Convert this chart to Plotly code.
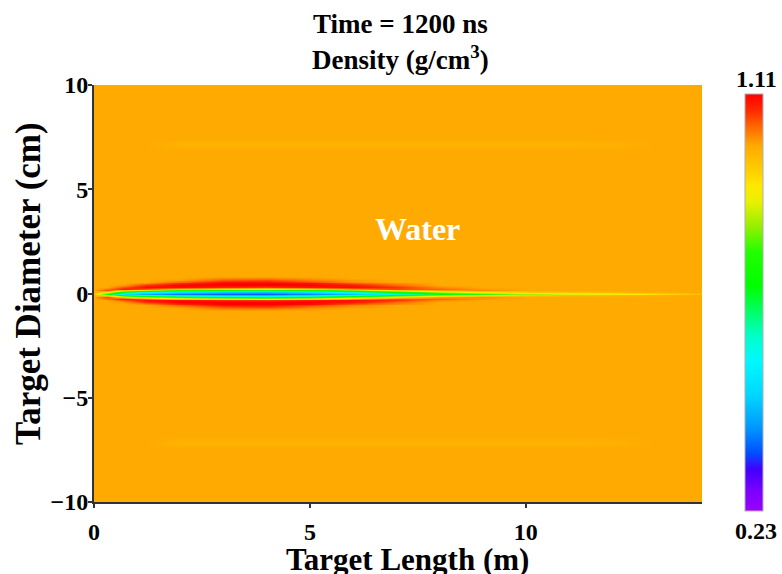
import plotly.graph_objects as go

# ---------------- data ----------------
x_m = [0.0, 0.3, 0.7, 1.2, 2.0, 3.0, 4.0, 5.0, 6.0, 7.0, 8.0, 9.0, 10.0, 11.0, 12.0, 13.0, 14.0, 14.1]

# radial levels (cm) for the upper half; the field is mirrored about y = 0
y_half_cm = [0.0, 0.08, 0.16, 0.24, 0.32, 0.40, 0.48, 0.56, 0.64, 0.74, 0.86, 1.0, 6.9, 7.15, 7.4, 10.0]

water_density = 1.0

# density (g/cm^3) across the jet at each station, from the axis outwards
jet_profiles = [
    [0.97, 1.00],
    [0.75, 0.92, 1.06, 1.03, 1.00],
    [0.52, 0.68, 0.96, 1.09, 1.05, 1.01],
    [0.42, 0.56, 0.86, 1.05, 1.10, 1.07, 1.02],
    [0.38, 0.50, 0.76, 0.98, 1.10, 1.11, 1.08, 1.04, 1.01],
    [0.36, 0.46, 0.70, 0.94, 1.08, 1.11, 1.11, 1.09, 1.05, 1.02],
    [0.36, 0.45, 0.68, 0.92, 1.07, 1.11, 1.11, 1.09, 1.06, 1.02],
    [0.39, 0.50, 0.72, 0.95, 1.09, 1.11, 1.10, 1.06, 1.03, 1.01],
    [0.45, 0.58, 0.82, 1.02, 1.10, 1.09, 1.05, 1.02, 1.01],
    [0.58, 0.72, 0.94, 1.06, 1.07, 1.04, 1.02],
    [0.70, 0.84, 1.01, 1.04, 1.02],
    [0.78, 0.91, 1.02, 1.01],
    [0.84, 0.95],
    [0.87, 0.97],
    [0.89, 0.98],
    [0.93, 0.99],
    [0.97, 1.00],
    [0.98, 1.00],
]

# faint lighter streak at |y| = 7.15 cm
streak_density = [1.0, 1.0, 1.0, 1.0, 0.986, 0.985, 0.985, 0.985, 0.985, 0.985,
                  0.985, 0.985, 0.985, 0.986, 0.988, 1.0, 1.0, 1.0]

cmin, cmax = 0.23, 1.11
title_time = "Time = 1200 ns"
title_qty = "Density (g/cm<sup>3</sup>)"
x_title = "Target Length (m)"
y_title = "Target Diameter (cm)"
x_ticks = [0, 5, 10]
y_ticks = [-10, -5, 0, 5, 10]

# ---------------- assemble the field ----------------
n_y = len(y_half_cm)
streak_row = y_half_cm.index(7.15)
half = []  # half[j][i] : y level j, x station i
for j in range(n_y):
    row = []
    for i, prof in enumerate(jet_profiles):
        if j < len(prof):
            row.append(prof[j])
        elif j == streak_row:
            row.append(streak_density[i])
        else:
            row.append(water_density)
    half.append(row)

y_full = [-v for v in reversed(y_half_cm[1:])] + y_half_cm
z_full = [half[j] for j in range(n_y - 1, 0, -1)] + half

colorscale = [
    [0.00, "#9B00FF"], [0.05, "#7A00FF"], [0.10, "#4000FF"], [0.14, "#0050FF"],
    [0.20, "#0098FF"], [0.28, "#00D8FF"], [0.36, "#00F8FF"], [0.42, "#00FFC8"],
    [0.50, "#00FF40"], [0.54, "#00FF00"], [0.62, "#20FF00"], [0.68, "#90F000"],
    [0.74, "#E8F000"], [0.78, "#FFE800"], [0.82, "#FFCC00"], [0.875, "#FFAA00"],
    [0.92, "#FF6A00"], [0.96, "#FF2A00"], [1.00, "#FF0000"],
]

W, H = 782, 574
ml, mr, mt, mb = 94, 80, 85, 72
pw, ph = W - ml - mr, H - mt - mb

def px_x(px):
    return (px - ml) / pw

def px_y(py):
    return (H - mb - py) / ph

serif = "Liberation Serif, Times New Roman, serif"

def bold(s):
    return "<b>" + s + "</b>"

fig = go.Figure(
    go.Heatmap(
        x=x_m, y=y_full, z=z_full,
        zmin=cmin, zmax=cmax, zsmooth="best",
        colorscale=colorscale,
        colorbar=dict(
            thickness=18, thicknessmode="pixels",
            len=417, lenmode="pixels",
            x=px_x(745), xanchor="left", xpad=0,
            y=px_y(302.5), yanchor="middle", ypad=0,
            outlinewidth=1, outlinecolor="#b0b0b0",
            showticklabels=False, ticks="",
        ),
        hoverinfo="skip",
    )
)

fig.update_layout(
    width=W, height=H,
    margin=dict(l=ml, r=mr, t=mt, b=mb, autoexpand=False),
    paper_bgcolor="white", plot_bgcolor="white",
    font=dict(family=serif, color="black", size=23),
    xaxis=dict(
        range=[0, 14.08], tickvals=x_ticks, ticktext=[bold(str(v)) for v in x_ticks],
        showgrid=False, zeroline=False, showline=True, linecolor="#333333", linewidth=2,
        ticks="outside", ticklen=4, tickcolor="#333333", tickwidth=1.5,
        tickfont=dict(size=24, family=serif), ticklabelstandoff=3,
    ),
    yaxis=dict(
        range=[-10, 10], tickvals=y_ticks,
        ticktext=[bold(str(v).replace("-", "\u2212")) for v in y_ticks],
        showgrid=False, zeroline=False, showline=True, linecolor="#333333", linewidth=2,
        ticks="outside", ticklen=4, tickcolor="#333333", tickwidth=1.5,
        tickfont=dict(size=24, family=serif), ticklabelstandoff=-5,
    ),
    annotations=[
        dict(text=bold(title_time), x=px_x(400), y=px_y(24), xref="paper", yref="paper",
             showarrow=False, font=dict(size=27, family=serif), xanchor="center", yanchor="middle"),
        dict(text=bold(title_qty), x=px_x(400), y=px_y(58), xref="paper", yref="paper",
             showarrow=False, font=dict(size=27, family=serif), xanchor="center", yanchor="middle"),
        dict(text=bold(x_title), x=px_x(407), y=px_y(559), xref="paper", yref="paper",
             showarrow=False, font=dict(size=31, family=serif), xanchor="center", yanchor="middle"),
        dict(text=bold(y_title), x=px_x(28), y=px_y(284), xref="paper", yref="paper", textangle=-90,
             showarrow=False, font=dict(size=35, family=serif), xanchor="center", yanchor="middle"),
        dict(text=bold("Water"), x=7.5, y=3.1, xref="x", yref="y",
             showarrow=False, font=dict(size=32, family=serif, color="white")),
        dict(text=bold(f"{cmax:.2f}"), x=px_x(756), y=px_y(79), xref="paper", yref="paper",
             showarrow=False, font=dict(size=24, family=serif), xanchor="center", yanchor="middle"),
        dict(text=bold(f"{cmin:.2f}"), x=px_x(756), y=px_y(531), xref="paper", yref="paper",
             showarrow=False, font=dict(size=24, family=serif), xanchor="center", yanchor="middle"),
    ],
)

fig.write_html("out.html", config={"displayModeBar": False},
               post_script="document.body.style.margin='0px';")
